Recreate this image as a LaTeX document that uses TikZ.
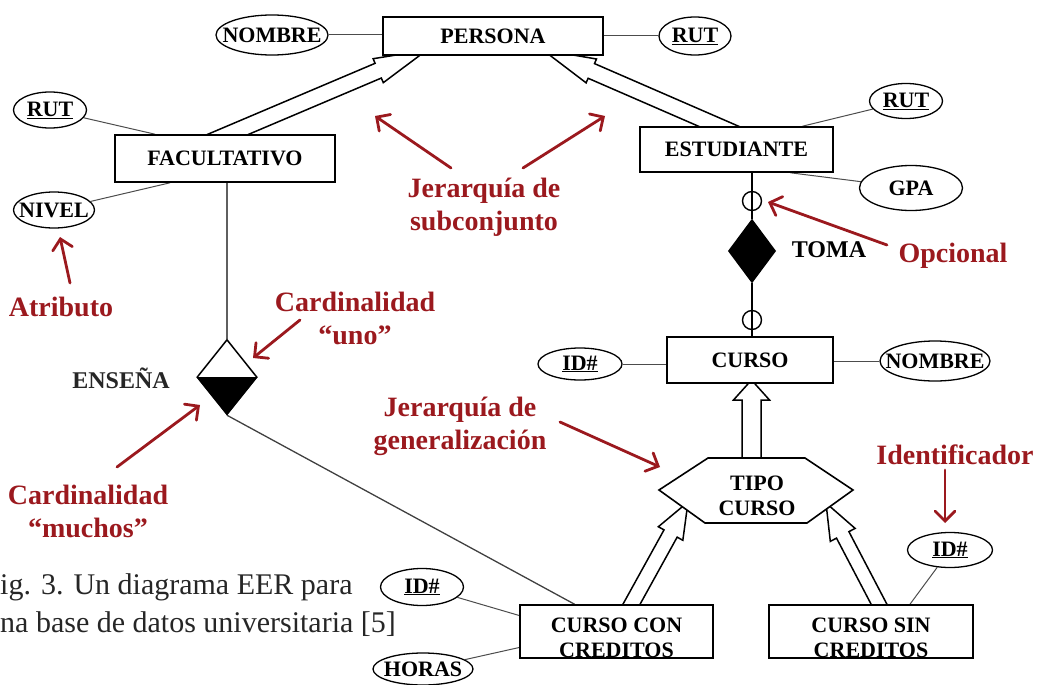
\documentclass[tikz,border=0pt]{standalone}
\usepackage{fontspec}
\setmainfont{Liberation Serif}
\usetikzlibrary{shapes.geometric,calc,arrows.meta}
\pgfdeclarelayer{background}
\pgfsetlayers{background,main}

\definecolor{notered}{RGB}{155,25,30}
\definecolor{linkgray}{RGB}{95,95,95}

\newcommand\entfont{\fontsize{22}{25}\selectfont\bfseries}
\newcommand\attfont{\fontsize{22}{24}\selectfont\bfseries}
\newcommand\relfont{\fontsize{24}{26}\selectfont\bfseries}
\newcommand\notefont{\fontsize{28}{33}\selectfont\bfseries}
\newcommand\capfont{\fontsize{30}{38}\selectfont}
% attribute text may overlap the ellipse outline, so it takes no width
\newcommand\attrtext[1]{\makebox[0pt]{#1}}

% hollow "is-a" arrow: tail, tip, shaft half width, head half width, head length
\newcommand\isaarrow[5]{%
  \coordinate (isaneck) at ($(#2)!#5!(#1)$);
  \draw[isaline] ($(#1)!#3!90:(#2)$) -- ($(isaneck)!#3!90:(#2)$)
    -- ($(isaneck)!#4!90:(#2)$) -- (#2) -- ($(isaneck)!#4!-90:(#2)$)
    -- ($(isaneck)!#3!-90:(#2)$) -- ($(#1)!#3!-90:(#2)$);
}

\tikzset{
  entity/.style={draw, line width=1.6pt, fill=white, inner sep=0pt, font=\entfont},
  enttext/.style={font=\entfont, align=center, inner sep=0pt},
  attr/.style={ellipse, draw, line width=1.3pt, fill=white, inner sep=0pt, font=\attfont},
  attrline/.style={line width=1pt, black!70},
  relline/.style={line width=1.8pt, black},
  teachline/.style={line width=1.3pt, black!75},
  isaline/.style={line width=1.5pt, fill=white, line join=miter},
  note/.style={text=notered, font=\notefont, align=center, inner sep=0pt},
  notearrow/.style={draw=notered, line width=2.8pt, line cap=round,
    -{Straight Barb[length=10pt,width=20pt,line cap=round]}},
  caption/.style={font=\capfont, text=black!85, inner sep=0pt},
}

\begin{document}
\begin{tikzpicture}[x=1pt,y=-1pt]
\useasboundingbox (0,0) rectangle (1037,685);

% entities
\node[entity, minimum width=220pt, minimum height=38pt] (per) at (493,36) {PERSONA};
\node[entity, minimum width=220pt, minimum height=47pt] (fac) at (225,158.5) {FACULTATIVO};
\node[entity, minimum width=193pt, minimum height=45pt] (est) at (736.5,149.5) {ESTUDIANTE};
\node[entity, minimum width=166pt, minimum height=46pt] (cur) at (750,360) {CURSO};
\node[entity, minimum width=193pt, minimum height=53pt] (ccc) at (616.5,631.5) {};
\node[enttext] (ccct) at (616.5,638) {CURSO CON\\CREDITOS};
\node[entity, minimum width=204pt, minimum height=53pt] (csc) at (871,631.5) {};
\node[enttext] (csct) at (871,638) {CURSO SIN\\CREDITOS};

% attributes
\node[attr, minimum width=112pt, minimum height=40pt] (nomp) at (272,35) {\attrtext{NOMBRE}};
\node[attr, minimum width=72pt, minimum height=38pt] (rutp) at (695,36) {\attrtext{\underline{RUT}}};
\node[attr, minimum width=73pt, minimum height=36pt] (rutf) at (50,110) {\attrtext{\underline{RUT}}};
\node[attr, minimum width=81pt, minimum height=36pt] (niv) at (54,210) {\attrtext{NIVEL}};
\node[attr, minimum width=73pt, minimum height=35pt] (rute) at (906,101) {\attrtext{\underline{RUT}}};
\node[attr, minimum width=103pt, minimum height=45pt] (gpa) at (911,188) {\attrtext{GPA}};
\node[attr, minimum width=84pt, minimum height=32pt] (idc) at (580,364) {\attrtext{\underline{ID\#}}};
\node[attr, minimum width=110pt, minimum height=40pt] (nomc) at (935,361) {\attrtext{NOMBRE}};
\node[attr, minimum width=83pt, minimum height=37pt] (idcc) at (422,587) {\attrtext{\underline{ID\#}}};
\node[attr, minimum width=100pt, minimum height=32pt] (hor) at (423,669) {\attrtext{HORAS}};
\node[attr, minimum width=85pt, minimum height=35pt] (idsc) at (950,550) {\attrtext{\underline{ID\#}}};

% relationships
\node[diamond, draw, line width=1.5pt, fill=white, inner sep=0pt,
      minimum width=60pt, minimum height=75pt] (ens) at (227,377) {};
\fill (ens.west) -- (ens.east) -- (ens.south) -- cycle;
\node[font=\relfont, text=black!85] (ensl) at (121,378) {ENSEÑA};
\node[diamond, draw, fill=black, line width=1.2pt, inner sep=0pt,
      minimum width=47pt, minimum height=63pt] (toma) at (752,251) {};
\node[font=\relfont] (tomal) at (829,250) {TOMA};
\node[circle, draw, line width=1.4pt, inner sep=0pt, minimum size=19pt] (opt1) at (752,201) {};
\node[circle, draw, line width=1.4pt, inner sep=0pt, minimum size=19pt] (opt2) at (752,320) {};

% generalisation node
\draw[line width=1.6pt, fill=white] (708,458) -- (805,458) -- (853,490) -- (807,523)
  -- (705,523) -- (659,490) -- cycle;
\node[enttext] (tipo) at (757,496) {TIPO\\CURSO};

% is-a arrow ends
\coordinate (isaFt) at (203,145);   \coordinate (isaFh) at (427,50);
\coordinate (isaEt) at (741,136);   \coordinate (isaEh) at (542.7,49.8);
\coordinate (isaTt) at (751.5,470); \coordinate (isaTh) at (751.5,380);
\coordinate (isaCt) at (625,616);   \coordinate (isaCh) at (688,502);
\coordinate (isaSt) at (885.5,616.6); \coordinate (isaSh) at (826,503);

\begin{pgfonlayer}{background}
  % attribute links
  \draw[attrline] (nomp.east) -- (nomp.east -| per.west);
  \draw[attrline] (per.east |- rutp.west) -- (rutp.west);
  \draw[attrline] (rutf) -- ([xshift=-70pt]fac.north);
  \draw[attrline] (niv) -- ([xshift=-55pt]fac.south);
  \draw[attrline] (rute) -- ([xshift=66pt]est.north);
  \draw[attrline] (gpa) -- ([xshift=54pt]est.south);
  \draw[attrline] (idc.east) -- (idc.east -| cur.west);
  \draw[attrline] (cur.east |- nomc.west) -- (nomc.west);
  \draw[attrline] (idcc) -- ([yshift=16pt]ccc.west);
  \draw[attrline] (hor) -- ([yshift=-16pt]ccc.west);
  \draw[attrline] (idsc) -- ([xshift=39pt]csc.north);
  % relationship links
  \draw[line width=2pt, linkgray] (ens.north |- fac.south) -- (ens.north);
  \draw[teachline] (ens.south) -- ([xshift=-42pt]ccc.north);
  \draw[relline] (toma.north |- est.south) -- (toma.north);
  \draw[relline] (toma.south) -- (toma.south |- cur.north);
  % is-a arrows
  \isaarrow{isaFt}{isaFh}{8pt}{13pt}{53pt}
  \isaarrow{isaEt}{isaEh}{8pt}{13pt}{53pt}
  \isaarrow{isaTt}{isaTh}{9.5pt}{18pt}{20pt}
  \isaarrow{isaCt}{isaCh}{7.5pt}{14pt}{36pt}
  \isaarrow{isaSt}{isaSh}{7pt}{14pt}{36pt}
\end{pgfonlayer}

% annotations
\node[note] (nsub) at (484,207) {Jerarquía de\\subconjunto};
\node[note] (natr) at (61,307) {Atributo};
\node[note] (nuno) at (355,318) {Cardinalidad\\“uno”};
\node[note] (nmuc) at (88,511) {Cardinalidad\\“muchos”};
\node[note] (nopc) at (953,256) {Opcional};
\node[note] (ngen) at (460,426) {Jerarquía de\\generalización};
\node[note] (nide) at (955,455) {Identificador};

\coordinate (a1s) at (451,168); \coordinate (a1e) at (375,116);
\coordinate (a2s) at (523,168); \coordinate (a2e) at (605,116);
\coordinate (a3s) at (70,283);  \coordinate (a3e) at (60,237);
\coordinate (a4s) at (300,320); \coordinate (a4e) at (253,358);
\coordinate (a5s) at (117,467); \coordinate (a5e) at (200,405);
\coordinate (a6s) at (887,245); \coordinate (a6e) at (768,202);
\coordinate (a7s) at (560,422); \coordinate (a7e) at (660,467);
\coordinate (a8s) at (945,470); \coordinate (a8e) at (945,523);
\foreach \k in {1,...,8} \draw[notearrow] (a\k s) -- (a\k e);

% caption
\node[caption, anchor=base west] (cap1) at (0,594) {ig. 3. Un diagrama EER para};
\node[caption, anchor=base west] (cap2) at (0,632) {na base de datos universitaria [5]};
\end{tikzpicture}
\end{document}
